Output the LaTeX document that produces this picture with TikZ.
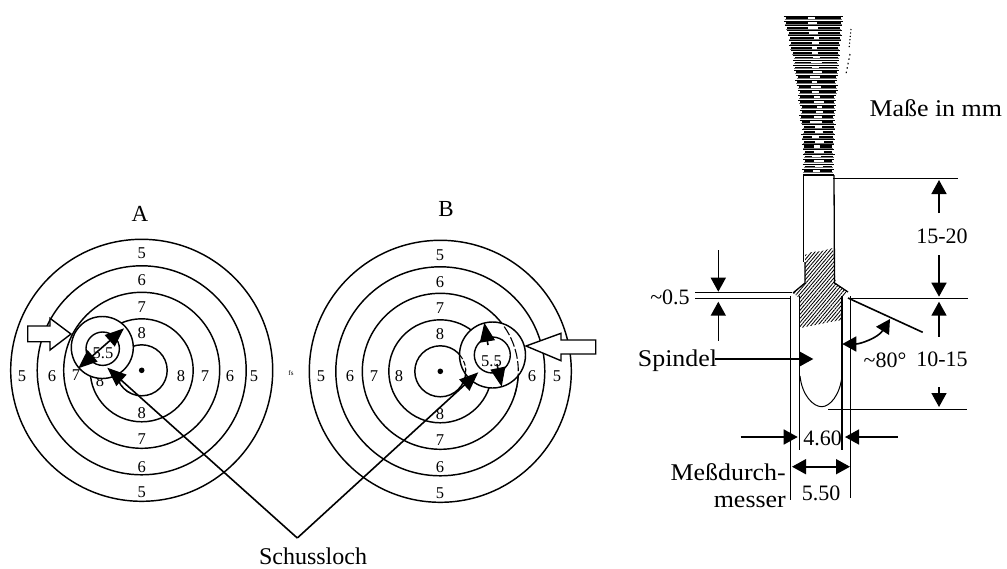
\documentclass[tikz,border=0pt]{standalone}
\usepackage{fontspec}
\setmainfont{Liberation Serif}
\usetikzlibrary{arrows.meta,patterns.meta,calc}
\tikzset{
  ring/.style={draw=black,line width=1.45pt},
  holeo/.style={draw=black,fill=white,line width=1.45pt},
  num/.style={inner sep=0pt,font=\fontsize{16.5}{18}\selectfont},
  lab/.style={inner sep=0pt,font=\fontsize{23}{25}\selectfont},
  dimt/.style={inner sep=0pt,font=\fontsize{22}{24}\selectfont},
  wordt/.style={inner sep=0pt,font=\fontsize{24}{26}\selectfont},
  dim/.style={draw=black,line width=1.6pt},
  arr/.style={dim,-{Triangle[length=14pt,width=15pt]}},
  darr/.style={dim,{Triangle[length=14pt,width=15pt]}-{Triangle[length=14pt,width=15pt]}},
  larr/.style={dim,-{Triangle[length=19pt,width=15pt]}},
  ldarr/.style={dim,{Triangle[length=19pt,width=15pt]}-{Triangle[length=19pt,width=15pt]}},
  barrow/.style={draw=black,fill=white,line width=1.4pt,line join=miter},
  hatchfill/.style={pattern={Lines[angle=50,distance=2.6pt,line width=0.85pt]},pattern color=black},
}
\newcommand{\wide}[1]{\scalebox{1.08}[1]{#1}}
\begin{document}
\begin{tikzpicture}[x=1pt,y=-1pt]
\useasboundingbox (0,0) rectangle (1007,568);
% ---- target A
\foreach \r in {131,104.5,78,51.5,25.5} \draw[ring] (141.7,370.3) circle[radius=\r];
\fill (141.7,370.3) circle[radius=2.8];
\node[num] (a8h) at (100,381) {8};
\node[holeo,circle,minimum size=62pt,inner sep=0pt] (ah) at (102.3,347.5) {};
\draw[line width=1.1pt,dash pattern=on 9pt off 3pt on 2pt off 4pt] (141.7,370.3)++(170:25.5) arc[start angle=170,end angle=118,radius=25.5];
\node[draw=black,line width=1.4pt,circle,minimum size=33.4pt,inner sep=0pt] (ai) at (102.7,348.7) {};
\foreach \n/\t/\x/\y in {a1/5/141.7/253,a2/6/141.7/280,a3/7/141.7/307,a4/8/141.7/333,a5/8/141.7/413,a6/7/141.7/439,a7/6/141.7/467,a8/5/141.7/492,a9/5/22/376,a10/6/52/376,a11/7/76/375,a12/8/181/376,a13/7/205/376,a14/6/230/376,a15/5/254/376}
  \node[num] (\n) at (\x,\y) {\t};
\node[num] (a55) at (103,353) {5.5};
\coordinate (ad1) at (78.3,368.3);
\coordinate (ad2) at (124,328.3);
\draw[ldarr] (ad1) -- (ad2);
\node[lab] (ta) at (140,214) {A};
\path[barrow,draw] (27.7,326) -- (50,326) -- (50,318.3) -- (71,334) -- (50,350) -- (50,341.7) -- (27.7,341.7) -- cycle;
\node[inner sep=0pt,font=\fontsize{7}{8}\selectfont] (fs) at (291,373) {fs};
% ---- target B
\foreach \r in {131,104.5,78,51.5,25.5} \draw[ring] (440.3,371.3) circle[radius=\r];
\fill (440.3,371.3) circle[radius=2.8];
\node[holeo,circle,minimum size=66pt,inner sep=0pt] (bh) at (492.5,355) {};
\draw[line width=1.1pt,dash pattern=on 10pt off 2.5pt] (440.3,371.3)++(-35:78) arc[start angle=-35,end angle=18,radius=78];
\draw[line width=1.1pt,dash pattern=on 5pt off 2pt] (440.3,371.3)++(-40:25.5) arc[start angle=-40,end angle=8,radius=25.5];
\node[draw=black,line width=1.4pt,circle,minimum size=36pt,inner sep=0pt] (bi) at (492.3,355) {};
\foreach \n/\t/\x/\y in {b1/5/440/255,b2/6/440/282,b3/7/440/308,b4/8/440/334,b5/8/440/414,b6/7/440/440,b7/6/440/467,b8/5/440/493,b9/5/321/376,b10/6/350/376,b11/7/374/376,b12/8/399/376,b13/6/532/376,b14/5/557/376}
  \node[num] (\n) at (\x,\y) {\t};
\node[num] (b55) at (491.5,361) {5.5};
\coordinate (bu0) at (488,345);
\coordinate (bu1) at (484.3,322.7);
\coordinate (bd0) at (497,364);
\coordinate (bd1) at (501.7,386.7);
\draw[larr] (bu0) -- (bu1);
\draw[larr] (bd0) -- (bd1);
\node[lab] (tb) at (446,209) {B};
\path[barrow,draw] (595.7,340) -- (561,340) -- (561,333.3) -- (526,346) -- (561,360.7) -- (561,354) -- (595.7,354) -- cycle;
% ---- Schussloch
\node[wordt,anchor=base] (sl) at (313,564.5) {Schussloch};
\coordinate (sj) at (297.3,538);
\coordinate (sa) at (107.3,367.7);
\coordinate (sb) at (478.3,372.3);
\draw[larr] (sj) -- (sa);
\draw[larr] (sj) -- (sb);
% ---- threads
\pgfmathsetseed{11}
\foreach \i in {0,...,31}{
  \pgfmathsetmacro{\y}{16.5+\i*4.95}
  \pgfmathsetmacro{\tt}{(\y-15)/158}
  \pgfmathsetmacro{\xl}{783+20*(1-(1-\tt)*(1-\tt))+2*rnd}
  \pgfmathsetmacro{\xr}{844-10*(1-(1-\tt)*(1-\tt))-2*rnd}
  \pgfmathsetmacro{\xm}{0.5*(\xl+\xr)+4*(rnd-0.5)}
  \pgfmathsetmacro{\ga}{\xm-2-4*rnd}
  \pgfmathsetmacro{\gb}{\xm+2+4*rnd}
  \pgfmathsetmacro{\lw}{1.6+1.1*rnd}
  \pgfmathsetmacro{\gy}{\y+2.2}
  \draw[line width=0.9pt] (\xl-1,\y-0.5) -- (\xr+1,\y-0.5);
  \draw[line width=\lw pt] (\xl+1,\y+1.5) -- (\ga,\y+1.5);
  \draw[line width=\lw pt] (\gb,\y+1.5) -- (\xr-1,\y+1.5);
  \draw[black!55,line width=0.9pt] (\xl,\gy+0.6) -- (\xr,\gy+0.6);
}
\draw[line width=1.1pt,dash pattern=on 1.2pt off 2.2pt] (851,29) -- (849,49);
\draw[line width=1.1pt,dash pattern=on 1.5pt off 3pt] (850,54) -- (846,74);
% ---- stem and collar
\fill[hatchfill] (805,255) -- (812,252) -- (822,251) -- (833,248) -- (835.7,283) -- (848,292) -- (842,298) -- (841.7,320) -- (830,322) -- (815,325) -- (800,328) -- (799.3,298) -- (793,293) -- (805,283) -- cycle;
\draw[line width=1.3pt] (803.3,175) -- (803.3,262);
\draw[line width=1.3pt] (834,175) -- (834.5,283) -- (848,292);
\draw[line width=1.3pt] (805,262) -- (805,283) -- (793,293);
\draw[line width=1.3pt] (803.3,175) -- (834,175);
% spindle and gauge lines
\draw[line width=1.3pt] (799.5,296) -- (799.5,450);
\draw[line width=1.3pt] (842,296) -- (842,450);
\draw[line width=1pt] (800,376) .. controls (802,395) and (813,406.7) .. (821.7,406.7) .. controls (830,406.7) and (840,395) .. (842,376);
\coordinate (ltube) at (790.7,296);
\coordinate (rtube) at (850.7,296);
\draw[line width=1.5pt] (ltube) -- (790.7,500);
\draw[line width=1.5pt] (rtube) -- (850.7,498);
% ---- dimensions
\coordinate (ex1a) at (695,292.5); \coordinate (ex1b) at (792,292.5);
\coordinate (ex2a) at (695,298.5); \coordinate (ex2b) at (790.7,298.5);
\draw[dim] (ex1a) -- (ex1b);
\draw[dim] (ex2a) -- (ex2b);
\node[dimt] (d05) at (670,297) {\textasciitilde 0.5};
\coordinate (t05a) at (718.3,250); \coordinate (t05b) at (718.3,291.7);
\coordinate (t05c) at (718.3,340.7); \coordinate (t05d) at (718.3,301.7);
\draw[arr] (t05a) -- (t05b);
\draw[arr] (t05c) -- (t05d);
% top dims
\coordinate (e1a) at (833,178.5); \coordinate (e1b) at (958,178.5);
\draw[dim] (e1a) -- (e1b);
\coordinate (e2a) at (850,298.5); \coordinate (e2b) at (967.7,298.5);
\draw[dim] (e2a) -- (e2b);
\coordinate (e3a) at (828,409.5); \coordinate (e3b) at (967,409.5);
\draw[dim] (e3a) -- (e3b);
\node[dimt] (d1520) at (942,236) {15-20};
\node[dimt] (d1015) at (942,359) {10-15};
\coordinate (h1) at (939,213); \coordinate (h2) at (939,180);
\coordinate (h3) at (939,255); \coordinate (h4) at (939,296.7);
\coordinate (h5) at (939,336.7); \coordinate (h6) at (939,301.7);
\coordinate (h7) at (939,387); \coordinate (h8) at (939,407);
\draw[arr] (h1) -- (h2); \draw[arr] (h3) -- (h4); \draw[arr] (h5) -- (h6); \draw[arr] (h7) -- (h8);
% angle
\coordinate (an1) at (848,298); \coordinate (an2) at (922.7,332.3);
\draw[dim] (an1) -- (an2);
\coordinate (ar1) at (842.3,344); \coordinate (ar2) at (890,319);
\draw[darr] (ar1) .. controls (860,344) and (878,338) .. (ar2);
\node[dimt] (d80) at (885,360) {\textasciitilde 80°};
% Spindel
\node[wordt] (sp) at (677.5,361) {\wide{Spindel}};
\coordinate (sps) at (715,359);
\coordinate (spt) at (813.3,359);
\draw[arr] (sps) -- (spt);
% 4.60
\node[dimt] (d46) at (822.7,438) {4.60};
\coordinate (p1) at (740.7,437); \coordinate (p2) at (797.7,437);
\coordinate (p3) at (897.7,437); \coordinate (p4) at (845,437);
\draw[arr] (p1) -- (p2); \draw[arr] (p3) -- (p4);
% 5.50
\coordinate (q1) at (792,466.7); \coordinate (q2) at (850,466.7);
\draw[darr] (q1) -- (q2);
\node[dimt] (d55) at (821,493) {5.50};
\node[wordt,anchor=east] (m1) at (786,471.7) {\wide{Meßdurch-}};
\node[wordt,anchor=east] (m2) at (786,501.7) {\wide{messer}};
\node[wordt,anchor=west] (ms) at (869.3,108) {\wide{Maße in mm}};
\end{tikzpicture}
\end{document}
